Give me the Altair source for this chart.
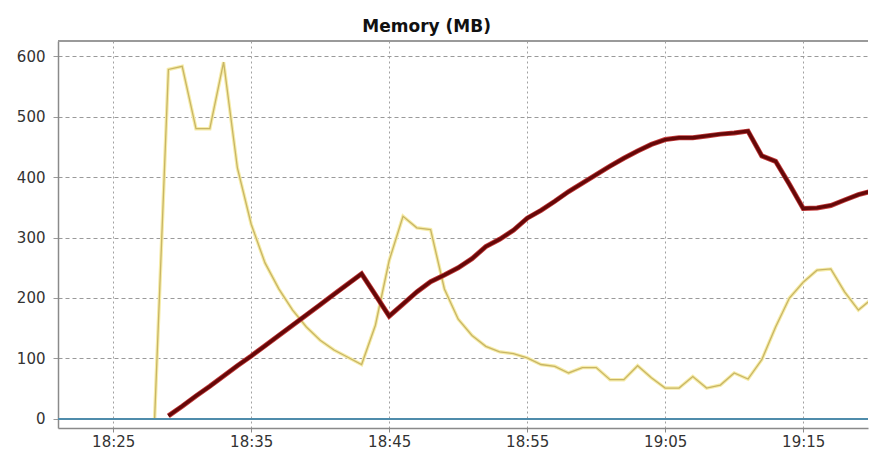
import altair as alt
import pandas as pd

# ---- data (one sample per minute) ----
times = ["18:28", "18:29", "18:30", "18:31", "18:32", "18:33", "18:34", "18:35", "18:36", "18:37",
         "18:38", "18:39", "18:40", "18:41", "18:42", "18:43", "18:44", "18:45", "18:46", "18:47",
         "18:48", "18:49", "18:50", "18:51", "18:52", "18:53", "18:54", "18:55", "18:56", "18:57",
         "18:58", "18:59", "19:00", "19:01", "19:02", "19:03", "19:04", "19:05", "19:06", "19:07",
         "19:08", "19:09", "19:10", "19:11", "19:12", "19:13", "19:14", "19:15", "19:16", "19:17",
         "19:18", "19:19", "19:20"]

yellow_mb = [0, 578, 583, 480, 480, 590, 415, 322, 258, 215,
             180, 152, 130, 114, 102, 90, 155, 262, 335, 316,
             313, 215, 165, 138, 120, 111, 108, 101, 90, 87,
             76, 85, 85, 65, 65, 88, 68, 51, 51, 70,
             51, 56, 76, 66, 98, 152, 200, 226, 246, 248,
             210, 180, 199]

red_mb = [None, 5, 21, 38, 54, 71, 88, 104, 121, 138,
          155, 172, 189, 206, 223, 240, 205, 170, 190, 210,
          227, 238, 250, 265, 285, 297, 312, 332, 345, 360,
          376, 390, 404, 418, 431, 443, 454, 462, 465, 465,
          468, 471, 473, 476, 435, 426, 388, 348, 349, 353,
          362, 371, 377]

x_tick_labels = ["18:25", "18:35", "18:45", "18:55", "19:05", "19:15"]
y_ticks = [0, 50, 100, 150, 200, 250, 300, 350, 400, 450, 500, 550, 600]


def to_min(s):
    h, m = s.split(":")
    return int(h) * 60 + int(m)


yellow_df = pd.DataFrame({"t": [to_min(t) for t in times], "v": yellow_mb})
red_df = pd.DataFrame({"t": [to_min(t) for t in times], "v": red_mb}).dropna()

W, H = 810, 387
x_domain = [to_min("18:21"), to_min("18:21") + W / 13.8]
y_domain = [-15, 625]

label_expr = ("floor(datum.value/60) + ':' + (datum.value % 60 < 10 ? '0' : '') + (datum.value % 60)")

x_enc = alt.X(
    "t:Q",
    scale=alt.Scale(domain=x_domain, nice=False, zero=False),
    axis=alt.Axis(
        values=[to_min(s) for s in x_tick_labels],
        labelExpr=label_expr,
        title=None,
        grid=True, gridColor="#a0a0a0", gridDash=[2, 3], gridWidth=1,
        domainColor="#8a8a8a", domainWidth=1.5,
        tickColor="#8a8a8a", tickSize=4,
        labelFont="DejaVu Sans", labelFontSize=15, labelColor="#333333",
        labelPadding=2, labelFlush=False,
    ),
)
y_enc = alt.Y(
    "v:Q",
    scale=alt.Scale(domain=y_domain, nice=False, zero=False),
    axis=alt.Axis(
        values=y_ticks,
        title=None,
        grid=True, gridColor="#9a9a9a", gridDash=[4, 3], gridWidth=1,
        domainColor="#8a8a8a", domainWidth=1.5,
        tickColor="#9a9a9a", tickSize=5,
        labelFont="DejaVu Sans", labelFontSize=15, labelColor="#333333",
        labelPadding=8, labelFlush=False,
    ),
)

top_border = alt.Chart(yellow_df).mark_rule(color="#9a9a9a", strokeWidth=1.5).encode(
    x=alt.value(0), x2=alt.value(W), y=alt.value(0)
)
zero_line = alt.Chart(yellow_df).mark_rule(color="#4f8cab", strokeWidth=1.5).encode(
    y=alt.datum(0)
)
yellow_halo = alt.Chart(yellow_df).mark_line(color="#f6eca8", strokeWidth=3.5, clip=True).encode(
    x=x_enc, y=y_enc
)
yellow_line = alt.Chart(yellow_df).mark_line(color="#c8b565", strokeWidth=1.3, clip=True).encode(
    x=x_enc, y=y_enc
)
red_halo = alt.Chart(red_df).mark_line(color="#c23a3a", strokeWidth=5, clip=True,
                                       strokeJoin="miter").encode(x=x_enc, y=y_enc)
red_line = alt.Chart(red_df).mark_line(color="#650808", strokeWidth=3.4, clip=True,
                                       strokeJoin="miter").encode(x=x_enc, y=y_enc)

chart = (
    alt.layer(yellow_halo, yellow_line, zero_line, red_halo, red_line, top_border)
    .properties(
        width=W,
        height=H,
        title=alt.Title(
            "Memory (MB)", font="DejaVu Sans", fontSize=17, fontWeight="bold",
            color="#111111", anchor="start", dx=346, dy=18, offset=9, baseline="alphabetic",
        ),
        padding={"left": 50, "top": 33, "right": 2, "bottom": 23},
        autosize=alt.AutoSizeParams(type="none"),
        background="white",
    )
    .configure_view(stroke=None)
)

chart.save("out.html", embed_options={"renderer": "svg", "actions": False})
